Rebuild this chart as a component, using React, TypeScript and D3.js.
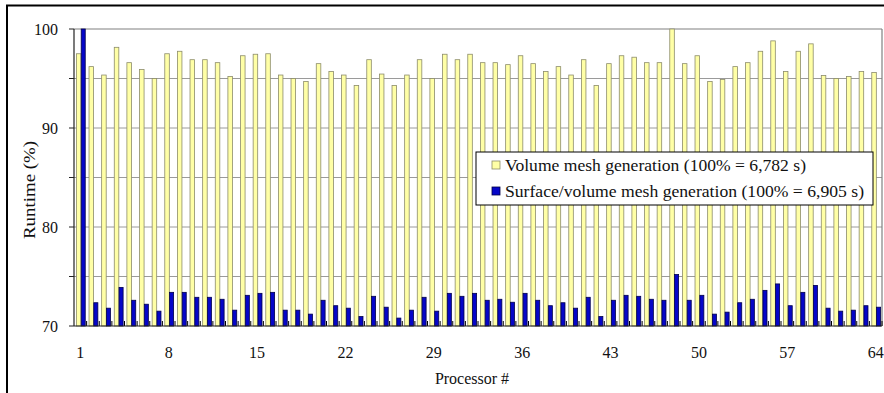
import React from "react";
import * as d3 from "d3";

const processors: number[] = Array.from({ length: 64 }, (_, i) => i + 1);

const volumeRuntime: number[] = [
  97.5, 96.2, 95.35, 98.15, 96.6, 95.9, 95.0, 97.5, 97.75, 96.9,
  96.9, 96.6, 95.2, 97.3, 97.45, 97.5, 95.35, 95.0, 94.7, 96.5,
  95.7, 95.35, 94.3, 96.9, 95.45, 94.3, 95.35, 96.9, 95.0, 97.45,
  96.9, 97.45, 96.6, 96.6, 96.4, 97.3, 96.5, 95.7, 96.2, 95.35,
  96.9, 94.3, 96.5, 97.3, 97.15, 96.6, 96.6, 100, 96.5, 97.3,
  94.7, 94.9, 96.2, 96.6, 97.75, 98.8, 95.7, 97.75, 98.5, 95.3,
  95.0, 95.2, 95.7, 95.6,
];

const surfaceVolumeRuntime: number[] = [
  100, 72.35, 71.8, 73.9, 72.6, 72.2, 71.5, 73.4, 73.4, 72.9,
  72.9, 72.7, 71.6, 73.1, 73.3, 73.4, 71.6, 71.6, 71.2, 72.6,
  72.05, 71.8, 70.95, 73.0, 71.9, 70.8, 71.6, 72.9, 71.5, 73.3,
  73.0, 73.3, 72.6, 72.7, 72.4, 73.3, 72.6, 72.05, 72.35, 71.8,
  72.9, 70.95, 72.6, 73.1, 73.0, 72.7, 72.6, 75.2, 72.6, 73.1,
  71.2, 71.4, 72.35, 72.7, 73.6, 74.25, 72.05, 73.4, 74.1, 71.8,
  71.5, 71.6, 72.05, 71.9,
];

const xTickLabels: number[] = [1, 8, 15, 22, 29, 36, 43, 50, 57, 64];
const yTickLabels: number[] = [70, 80, 90, 100];
const yGridValues: number[] = [75, 80, 85, 90, 95];
const seriesNames: string[] = [
  "Volume mesh generation (100% = 6,782 s)",
  "Surface/volume mesh generation (100% = 6,905 s)",
];

const W = 884;
const H = 393;
const left = 74;
const right = 882;
const top = 29;
const bottom = 326;

const YELLOW = "#ffffa6";
const YELLOW_STROKE = "#8c8c6a";
const BLUE = "#0606c8";
const BLUE_STROKE = "#000048";
const FONT = "Liberation Serif";

export default function App() {
  const x = d3
    .scaleBand<number>()
    .domain(processors)
    .range([left, right])
    .padding(0);
  const y = d3.scaleLinear().domain([70, 100]).range([bottom, top]);
  const bw = x.bandwidth();

  return (
    <svg
      width={W}
      height={H}
      style={{ position: "absolute", left: 0, top: 0, background: "#fff" }}
    >
      <rect x={7} y={5.5} width={900} height={400} fill="none" stroke="#000" strokeWidth={2} />

      {yGridValues.map((v) => (
        <line key={"g" + v} x1={left} x2={right} y1={y(v)} y2={y(v)} stroke="#9a9a9a" strokeWidth={1} />
      ))}

      <line x1={left} x2={right} y1={top} y2={top} stroke="#808080" strokeWidth={1.2} />
      <line x1={right} x2={right} y1={top} y2={bottom} stroke="#808080" strokeWidth={1.2} />

      {processors.map((p, i) => {
        const x0 = x(p) as number;
        const yv = volumeRuntime[i];
        const bv = surfaceVolumeRuntime[i];
        return (
          <g key={"b" + p}>
            <rect
              x={x0 + bw * 0.19}
              y={y(yv)}
              width={bw * 0.36}
              height={y(70) - y(yv)}
              fill={YELLOW}
              stroke={YELLOW_STROKE}
              strokeWidth={0.8}
            />
            <rect
              x={x0 + bw * 0.57}
              y={y(bv)}
              width={bw * 0.32}
              height={y(70) - y(bv)}
              fill={BLUE}
              stroke={BLUE_STROKE}
              strokeWidth={0.8}
            />
            <line x1={x0 + bw} x2={x0 + bw} y1={bottom} y2={bottom - 5} stroke="#000" strokeWidth={1} />
          </g>
        );
      })}

      <line x1={left} x2={left} y1={top} y2={bottom} stroke="#222" strokeWidth={1.2} />
      <line x1={left} x2={right} y1={bottom} y2={bottom} stroke="#222" strokeWidth={1.2} />
      {[70, 75, 80, 85, 90, 95, 100].map((v) => (
        <line key={"t" + v} x1={left - 5} x2={left} y1={y(v)} y2={y(v)} stroke="#222" strokeWidth={1} />
      ))}

      {yTickLabels.map((v) => (
        <text key={"yl" + v} x={58} y={y(v)} dy="0.35em" textAnchor="end" fontFamily={FONT} fontSize={16} fill="#111">
          {v}
        </text>
      ))}

      {xTickLabels.map((p) => (
        <text
          key={"xl" + p}
          x={(x(p) as number) + bw / 2}
          y={358}
          textAnchor="middle"
          fontFamily={FONT}
          fontSize={16}
          fill="#111"
        >
          {p}
        </text>
      ))}

      <text x={472} y={384} textAnchor="middle" fontFamily={FONT} fontSize={16} fill="#111">
        Processor #
      </text>
      <text
        transform="translate(35,190) rotate(-90)"
        textAnchor="middle"
        fontFamily={FONT}
        fontSize={17}
        textLength={98}
        lengthAdjust="spacingAndGlyphs"
        fill="#111"
      >
        Runtime (%)
      </text>

      <rect x={476} y={152} width={397} height={53} fill="#fff" stroke="#000" strokeWidth={1} />
      <rect x={492} y={161} width={8} height={8} fill={YELLOW} stroke={YELLOW_STROKE} strokeWidth={0.8} />
      <text x={505} y={171} fontFamily={FONT} fontSize={17.5} textLength={301} lengthAdjust="spacingAndGlyphs" fill="#111">
        {seriesNames[0]}
      </text>
      <rect x={492} y={187} width={8} height={8} fill={BLUE} stroke={BLUE_STROKE} strokeWidth={0.8} />
      <text x={505} y={197} fontFamily={FONT} fontSize={17.5} textLength={359} lengthAdjust="spacingAndGlyphs" fill="#111">
        {seriesNames[1]}
      </text>
    </svg>
  );
}
